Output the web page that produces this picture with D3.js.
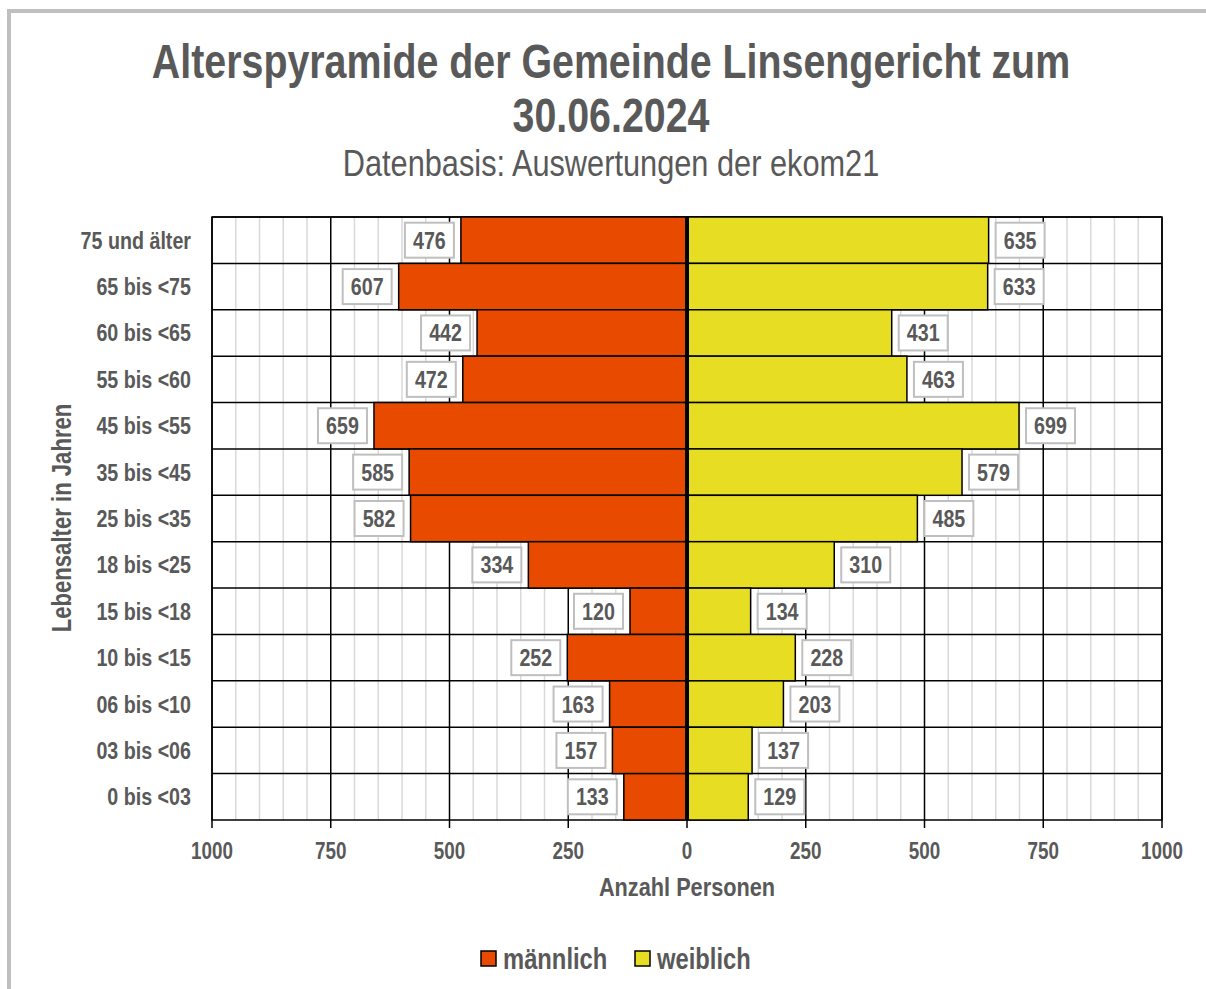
<!DOCTYPE html>
<html>
<head>
<meta charset="utf-8">
<script src="https://d3js.org/d3.v7.min.js"></script>
<style>
  body { margin: 0; background: #fff; }
  svg text { font-family: "Liberation Sans", Arial, sans-serif; fill: #595959; }
</style>
</head>
<body>
<svg id="chart" width="1206" height="989"></svg>
<script>
// age groups from top to bottom
var ageGroups = ["75 und älter", "65 bis <75", "60 bis <65", "55 bis <60", "45 bis <55",
  "35 bis <45", "25 bis <35", "18 bis <25", "15 bis <18", "10 bis <15",
  "06 bis <10", "03 bis <06", "0 bis <03"];
var maleValues = [476, 607, 442, 472, 659, 585, 582, 334, 120, 252, 163, 157, 133];
var femaleValues = [635, 633, 431, 463, 699, 579, 485, 310, 134, 228, 203, 137, 129];
var tickValues = [-1000, -750, -500, -250, 0, 250, 500, 750, 1000];
var seriesNames = ["männlich", "weiblich"];

var maleColor = "#E84B00";
var femaleColor = "#E7DE24";

// no narrow font installed, so text gets squeezed horizontally
var narrow = 0.82;

var svg = d3.select("#chart");

function addText(parent, px, py, str, size, bold, anchor, rotate){
  var t = parent.append("text")
    .attr("transform", "translate(" + px + "," + py + ")" + (rotate ? " rotate(" + rotate + ")" : "") + " scale(" + narrow + ",1)")
    .attr("text-anchor", anchor || "start")
    .style("font-size", size + "px")
    .text(str);
  if (bold) t.style("font-weight", "bold");
  return t;
}

// outer frame, only top and left edge are inside the picture
svg.append("rect")
  .attr("x", 9).attr("y", 11)
  .attr("width", 1300).attr("height", 1100)
  .attr("fill", "none")
  .attr("stroke", "#BFBFBF")
  .attr("stroke-width", 4);

var plotLeft = 212, plotRight = 1162, plotTop = 217, plotBottom = 820;

var x = d3.scaleLinear().domain([-1000, 1000]).range([plotLeft, plotRight]);
var y = d3.scaleBand().domain(ageGroups).range([plotTop, plotBottom]).padding(0);

// title
addText(svg, 611, 78, "Alterspyramide der Gemeinde Linsengericht zum", 48, true, "middle");
addText(svg, 611, 132, "30.06.2024", 48, true, "middle");
addText(svg, 611, 176, "Datenbasis: Auswertungen der ekom21", 37.5, false, "middle");

// gridlines
var grid = svg.append("g");
grid.selectAll("line.minor")
  .data(d3.range(-1000, 1001, 50).filter(function(v){ return v % 250 !== 0; }))
  .enter().append("line")
  .attr("class", "minor")
  .attr("x1", function(d){ return x(d); }).attr("x2", function(d){ return x(d); })
  .attr("y1", plotTop).attr("y2", plotBottom)
  .attr("stroke", "#D9D9D9").attr("stroke-width", 1.5);
grid.selectAll("line.major")
  .data(tickValues)
  .enter().append("line")
  .attr("class", "major")
  .attr("x1", function(d){ return x(d); }).attr("x2", function(d){ return x(d); })
  .attr("y1", plotTop).attr("y2", plotBottom + 8)
  .attr("stroke", "#000").attr("stroke-width", 1.5);
grid.selectAll("line.row")
  .data(ageGroups)
  .enter().append("line")
  .attr("class", "row")
  .attr("x1", plotLeft).attr("x2", plotRight)
  .attr("y1", function(d){ return y(d); }).attr("y2", function(d){ return y(d); })
  .attr("stroke", "#000").attr("stroke-width", 1.5);
grid.append("rect")
  .attr("x", plotLeft).attr("y", plotTop)
  .attr("width", plotRight - plotLeft).attr("height", plotBottom - plotTop)
  .attr("fill", "none").attr("stroke", "#000").attr("stroke-width", 1.5);

// bars
svg.selectAll("rect.male")
  .data(maleValues)
  .enter().append("rect")
  .attr("class", "male")
  .attr("x", function(d){ return x(-d); })
  .attr("y", function(d, i){ return y(ageGroups[i]); })
  .attr("width", function(d){ return x(0) - x(-d); })
  .attr("height", y.bandwidth())
  .attr("fill", maleColor).attr("stroke", "#000").attr("stroke-width", 1.5);
svg.selectAll("rect.female")
  .data(femaleValues)
  .enter().append("rect")
  .attr("class", "female")
  .attr("x", x(0))
  .attr("y", function(d, i){ return y(ageGroups[i]); })
  .attr("width", function(d){ return x(d) - x(0); })
  .attr("height", y.bandwidth())
  .attr("fill", femaleColor).attr("stroke", "#000").attr("stroke-width", 1.5);

// center axis
svg.append("line")
  .attr("x1", x(0)).attr("x2", x(0))
  .attr("y1", plotTop).attr("y2", plotBottom)
  .attr("stroke", "#000").attr("stroke-width", 4);

// value labels in boxes
function drawLabels(values, side){
  var g = svg.append("g");
  values.forEach(function(v, i){
    var w = 49, h = 35;
    var cy = y(ageGroups[i]) + y.bandwidth() / 2;
    var bx = side < 0 ? x(-v) - 7 - w : x(v) + 7;
    g.append("rect")
      .attr("x", bx).attr("y", cy - h / 2)
      .attr("width", w).attr("height", h)
      .attr("fill", "#fff").attr("stroke", "#BFBFBF").attr("stroke-width", 2);
    addText(g, bx + w / 2, cy + 8.5, v, 24, true, "middle");
  });
}
drawLabels(maleValues, -1);
drawLabels(femaleValues, 1);

// y axis labels
ageGroups.forEach(function(d){
  addText(svg, 191, y(d) + y.bandwidth() / 2 + 8.5, d, 24, true, "end");
});
addText(svg, 71, 518, "Lebensalter in Jahren", 27, true, "middle", -90);

// x axis labels
tickValues.forEach(function(d){
  addText(svg, x(d), 859, Math.abs(d), 23, true, "middle");
});
addText(svg, x(0), 896, "Anzahl Personen", 26.5, true, "middle");

// legend
var legend = svg.append("g");
var legendX = [481, 635];
[maleColor, femaleColor].forEach(function(c, i){
  legend.append("rect")
    .attr("x", legendX[i]).attr("y", 951)
    .attr("width", 15).attr("height", 15)
    .attr("fill", c).attr("stroke", "#000").attr("stroke-width", 1.5);
  addText(legend, legendX[i] + 22, 969, seriesNames[i], 29, true, "start");
});
</script>
</body>
</html>
